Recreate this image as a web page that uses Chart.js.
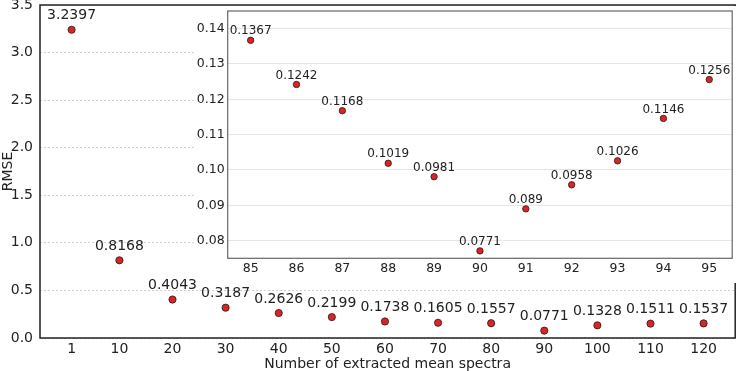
<!DOCTYPE html>
<html>
<head>
<meta charset="utf-8">
<script src="https://cdn.jsdelivr.net/npm/chart.js@4.4.1/dist/chart.umd.min.js"></script>
<style>
  html, body { margin: 0; padding: 0; background: #fff; }
  #wrap { position: relative; width: 740px; height: 371px; }
  #main { position: absolute; left: 0; top: 0; }
  #inset { position: absolute; left: 196px; top: 6px; }
</style>
</head>
<body>
<div id="wrap">
  <canvas id="main" width="740" height="371"></canvas>
  <canvas id="inset" width="541" height="277"></canvas>
</div>
<script>
// main plot
const spectraCounts = [1, 10, 20, 30, 40, 50, 60, 70, 80, 90, 100, 110, 120];
const rmseValues = [3.2397, 0.8168, 0.4043, 0.3187, 0.2626, 0.2199, 0.1738, 0.1605, 0.1557, 0.0771, 0.1328, 0.1511, 0.1537];
const mainXTicks = [1, 10, 20, 30, 40, 50, 60, 70, 80, 90, 100, 110, 120];

// zoomed inset
const insetCounts = [85, 86, 87, 88, 89, 90, 91, 92, 93, 94, 95];
const insetRmse = [0.1367, 0.1242, 0.1168, 0.1019, 0.0981, 0.0771, 0.089, 0.0958, 0.1026, 0.1146, 0.1256];
const insetXTicks = [85, 86, 87, 88, 89, 90, 91, 92, 93, 94, 95];
const insetYTicks = [0.08, 0.09, 0.10, 0.11, 0.12, 0.13, 0.14];

const FONT = "'DejaVu Sans', sans-serif";
const POINT_RED = '#d62728';

Chart.defaults.font.family = FONT;
Chart.defaults.color = '#222';
Chart.defaults.animation = false;

// write each value above its point
const valueLabels = {
  id: 'valueLabels',
  afterDatasetsDraw(chart, args, opts) {
    const ctx = chart.ctx;
    const meta = chart.getDatasetMeta(0);
    const values = chart.data.datasets[0].data;
    ctx.save();
    ctx.font = opts.size + 'px ' + FONT;
    ctx.fillStyle = '#222';
    ctx.textAlign = 'center';
    ctx.textBaseline = 'middle';
    meta.data.forEach((pt, i) => {
      ctx.fillText(String(values[i].y), pt.x, pt.y - opts.offset);
    });
    ctx.restore();
  }
};

// box around the plot area, optional white backdrop
const frame = {
  id: 'frame',
  beforeDraw(chart, args, opts) {
    if (!opts.fill) return;
    const ctx = chart.ctx;
    ctx.save();
    ctx.fillStyle = '#fff';
    ctx.fillRect(0, 0, chart.width, chart.height);
    ctx.restore();
  },
  afterDraw(chart, args, opts) {
    const a = chart.chartArea;
    const ctx = chart.ctx;
    ctx.save();
    ctx.strokeStyle = opts.color;
    ctx.lineWidth = opts.width;
    ctx.strokeRect(a.left, a.top, a.right - a.left, a.bottom - a.top);
    ctx.restore();
  }
};

// pin axis sizes so the plot area lands where the reference has it
const fixX = h => s => { s.height = h; s.paddingLeft = 0; s.paddingRight = 0; };
const fixY = w => s => { s.width = w; s.paddingTop = 0; s.paddingBottom = 0; };

new Chart(document.getElementById('main'), {
  type: 'scatter',
  data: {
    datasets: [{
      data: spectraCounts.map((x, i) => ({ x, y: rmseValues[i] })),
      backgroundColor: POINT_RED,
      borderColor: '#3a1010',
      borderWidth: 0.8,
      pointRadius: 3.6
    }]
  },
  plugins: [valueLabels, frame],
  options: {
    responsive: false,
    layout: { padding: { left: 0, right: 2, top: 5, bottom: 0 } },
    plugins: {
      legend: { display: false },
      tooltip: { enabled: false },
      valueLabels: { size: 14, offset: 14 },
      frame: { color: '#222', width: 1.5, fill: false }
    },
    scales: {
      x: {
        type: 'linear',
        min: -4.95,
        max: 125.95,
        afterBuildTicks: s => { s.ticks = mainXTicks.map(v => ({ value: v })); },
        afterFit: fixX(33),
        grid: { display: false, drawTicks: false },
        border: { display: false },
        ticks: { font: { size: 14 }, padding: 3, maxRotation: 0, autoSkip: false },
        title: { display: true, text: 'Number of extracted mean spectra', font: { size: 14 }, padding: { top: 0, bottom: -2 } }
      },
      y: {
        min: 0,
        max: 3.5,
        ticks: { stepSize: 0.5, font: { size: 14 }, padding: 7, callback: v => v.toFixed(1) },
        afterFit: fixY(40),
        grid: { color: '#cfcfcf', drawTicks: false, lineWidth: 1 },
        border: { display: false, dash: [2, 2] },
        title: { display: true, text: 'RMSE', font: { size: 14 }, padding: 0 }
      }
    }
  }
});

new Chart(document.getElementById('inset'), {
  type: 'scatter',
  data: {
    datasets: [{
      data: insetCounts.map((x, i) => ({ x, y: insetRmse[i] })),
      backgroundColor: POINT_RED,
      borderColor: '#3a1010',
      borderWidth: 0.8,
      pointRadius: 3.2
    }]
  },
  plugins: [valueLabels, frame],
  options: {
    responsive: false,
    layout: { padding: { left: 0, right: 4, top: 5, bottom: 0 } },
    plugins: {
      legend: { display: false },
      tooltip: { enabled: false },
      valueLabels: { size: 12, offset: 9 },
      frame: { color: '#666', width: 1.2, fill: true }
    },
    scales: {
      x: {
        type: 'linear',
        min: 84.5,
        max: 95.5,
        afterBuildTicks: s => { s.ticks = insetXTicks.map(v => ({ value: v })); },
        ticks: { font: { size: 12.5 }, padding: 3, maxRotation: 0, autoSkip: false },
        afterFit: fixX(24.7),
        grid: { display: false, drawTicks: false },
        border: { display: false }
      },
      y: {
        min: 0.075,
        max: 0.145,
        afterBuildTicks: s => { s.ticks = insetYTicks.map(v => ({ value: v })); },
        afterFit: fixY(31.7),
        ticks: { font: { size: 12.5 }, padding: 3, callback: v => v.toFixed(2) },
        grid: { color: '#e6e6e6', drawTicks: false, lineWidth: 1 },
        border: { display: false }
      }
    }
  }
});
</script>
</body>
</html>
